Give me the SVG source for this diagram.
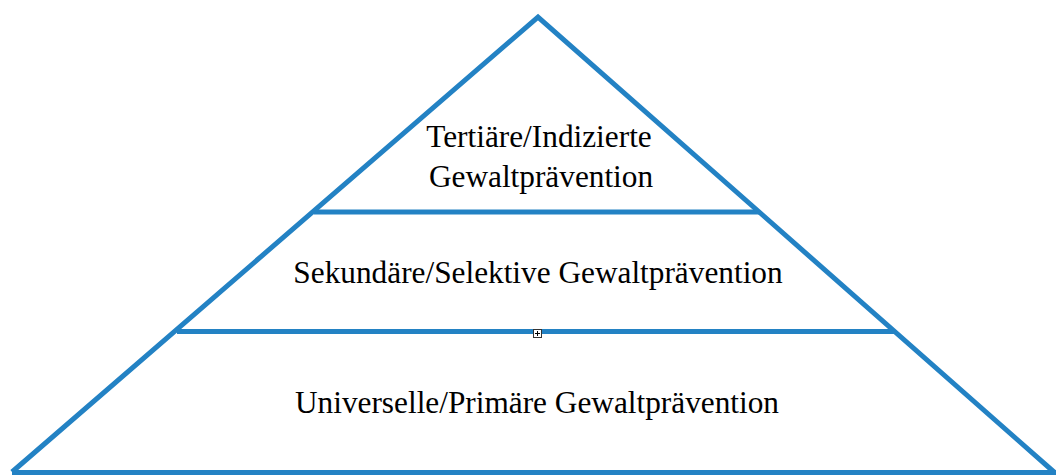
<svg xmlns="http://www.w3.org/2000/svg" width="1056" height="475" viewBox="0 0 1056 475">
<style>
.edge{stroke:#2382c4;stroke-width:5;fill:none;stroke-linecap:butt}
.shadow{stroke:#8c8c8c;stroke-width:6;fill:none;opacity:0.8}
.lbl{font-family:"Liberation Serif","Times New Roman",serif;font-size:31.3px;fill:#000;text-anchor:middle}
</style>
<defs>
<filter id="blur" x="-5%" y="-200%" width="110%" height="500%">
<feGaussianBlur stdDeviation="2.5"/>
</filter>
</defs>
<rect width="1056" height="475" fill="#fff"/>
<g id="connectors">
<line class="shadow" x1="320" y1="218" x2="754" y2="218" filter="url(#blur)"/>
<line class="shadow" x1="182" y1="337.5" x2="890" y2="337.5" filter="url(#blur)"/>
<polyline class="edge" points="12,472 538,17 1054,472" stroke-linejoin="miter"/>
<line class="edge" x1="12" y1="472.5" x2="1056" y2="472.5"/>
<line class="edge" x1="314" y1="212" x2="759" y2="212"/>
<line class="edge" x1="177" y1="331.5" x2="895" y2="331.5"/>
</g>
<g id="node-tertiary">
<text class="lbl" x="539" y="147">Tertiäre/Indizierte</text>
<text class="lbl" x="541" y="187">Gewaltprävention</text>
</g>
<g id="node-secondary">
<text class="lbl" x="538" y="283">Sekundäre/Selektive Gewaltprävention</text>
</g>
<g id="node-primary">
<text class="lbl" x="537" y="413">Universelle/Primäre Gewaltprävention</text>
</g>
<g id="handle">
<rect x="533.5" y="329.5" width="8" height="8" fill="#fff" stroke="#333" stroke-width="1"/>
<line x1="537.5" y1="331" x2="537.5" y2="336" stroke="#000" stroke-width="1"/>
<line x1="535" y1="333.5" x2="540" y2="333.5" stroke="#000" stroke-width="1"/>
</g>
</svg>
